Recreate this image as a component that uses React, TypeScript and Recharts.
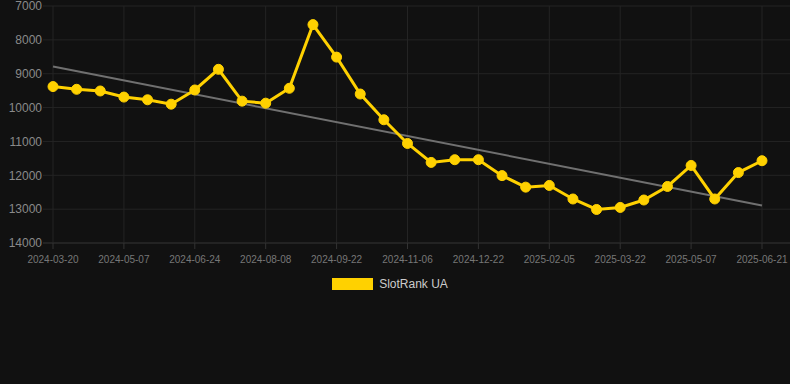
import { CartesianGrid, Legend, Line, LineChart, XAxis, YAxis } from 'recharts';

const dates = [
  '2024-03-20', '2024-04-05', '2024-04-21',
  '2024-05-07', '2024-05-23', '2024-06-08',
  '2024-06-24', '2024-07-09', '2024-07-24',
  '2024-08-08', '2024-08-23', '2024-09-07',
  '2024-09-22', '2024-10-07', '2024-10-22',
  '2024-11-06', '2024-11-21', '2024-12-07',
  '2024-12-22', '2025-01-06', '2025-01-21',
  '2025-02-05', '2025-02-20', '2025-03-07',
  '2025-03-22', '2025-04-06', '2025-04-22',
  '2025-05-07', '2025-05-22', '2025-06-06',
  '2025-06-21',
];

const ranks = [
  9380, 9460, 9510, 9690, 9770, 9900, 9480, 8870, 9810, 9870,
  9430, 7550, 8510, 9600, 10360, 11060, 11620, 11540, 11540, 12010,
  12350, 12300, 12700, 13010, 12950, 12730, 12330, 11710, 12700, 11920,
  11570,
];

// straight trend line, first and last value only
const trendStart = 8790;
const trendEnd = 12890;

const yTicks = [7000, 8000, 9000, 10000, 11000, 12000, 13000, 14000];

const YELLOW = '#FFD100';

const data = dates.map((date, i) => ({
  date,
  rank: ranks[i],
  trend: i === 0 ? trendStart : i === dates.length - 1 ? trendEnd : null,
}));

const LegendBox = () => (
  <div style={{ display: 'flex', justifyContent: 'center', alignItems: 'center', height: 12, paddingRight: 10 }}>
    <span style={{ width: 41, height: 12, background: YELLOW, display: 'inline-block' }} />
    <span style={{ marginLeft: 6, color: '#cccccc', fontSize: 12, lineHeight: '12px' }}>SlotRank UA</span>
  </div>
);

export default function App() {
  return (
    <div
      style={{
        position: 'fixed',
        top: 0,
        left: 0,
        width: 790,
        height: 384,
        background: '#111111',
        fontFamily: '"Liberation Sans", Arial, sans-serif',
      }}
    >
      <LineChart width={790} height={384} data={data} margin={{ top: 6, right: 0, left: 0, bottom: 80 }}>
        <CartesianGrid stroke="#242424" syncWithTicks />
        <XAxis
          dataKey="date"
          interval={2}
          padding={{ left: 10, right: 28 }}
          height={35}
          tickSize={6}
          tickMargin={7}
          tick={{ fill: '#777777', fontSize: 10 }}
          tickLine={{ stroke: '#333333' }}
          axisLine={{ stroke: '#2c2c2c' }}
        />
        <YAxis
          reversed
          domain={[7000, 14000]}
          ticks={yTicks}
          interval={0}
          width={43}
          tickSize={0}
          tickMargin={1}
          axisLine={false}
          tickLine={false}
          tick={{ fill: '#8a8a8a', fontSize: 12 }}
        />
        <Legend verticalAlign="bottom" height={26} content={() => <LegendBox />} />
        <Line
          dataKey="trend"
          connectNulls
          stroke="#707070"
          strokeWidth={2}
          dot={false}
          activeDot={false}
          legendType="none"
          isAnimationActive={false}
        />
        <Line
          dataKey="rank"
          name="SlotRank UA"
          stroke={YELLOW}
          strokeWidth={3}
          dot={{ r: 5, fill: YELLOW, stroke: YELLOW, strokeWidth: 1 }}
          activeDot={false}
          isAnimationActive={false}
        />
      </LineChart>
    </div>
  );
}
